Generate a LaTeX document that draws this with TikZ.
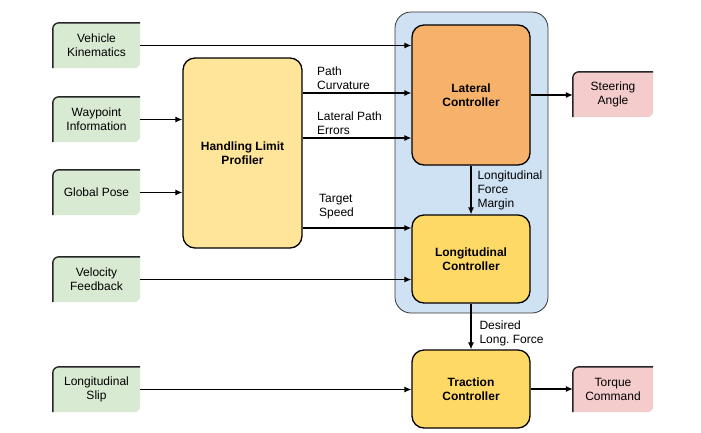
\documentclass[tikz,border=0pt]{standalone}
\usepackage{fontspec}
\setmainfont{Liberation Sans}
\usetikzlibrary{arrows.meta,backgrounds,calc}

\definecolor{inGreen}{HTML}{D9EAD3}
\definecolor{outPink}{HTML}{F4CCCC}
\definecolor{hlpYellow}{HTML}{FFE599}
\definecolor{latOrange}{HTML}{F6B26B}
\definecolor{ctrlYellow}{HTML}{FFD966}
\definecolor{grpBlue}{HTML}{CFE2F3}

\begin{document}
\begin{tikzpicture}[x=1pt, y=-1pt, font=\fontsize{12}{14}\selectfont,
    block/.style={draw, line width=1.3pt, rounded corners=12pt, align=center,
        font=\fontsize{12}{14}\selectfont\bfseries},
    io/.style={minimum width=87pt, minimum height=45pt, inner sep=0pt, align=center},
    sig/.style={line width=1.1pt, -{Latex[length=7pt, width=6pt]}},
    lbl/.style={inner sep=0pt, align=left}]
    \useasboundingbox (0,0) rectangle (701,432);

    % controller group behind the two controllers
    \node[draw=black!80, line width=0.8pt, fill=grpBlue, rounded corners=16pt,
        minimum width=153pt, minimum height=301pt] (grp) at (471.5,162.5) {};

    % inputs
    \node[io] (vk) at (96.5,45.5) {Vehicle\\Kinematics};
    \node[io] (wi) at (96.5,119.5) {Waypoint\\Information};
    \node[io] (gp) at (96.5,192.5) {Global Pose};
    \node[io] (vf) at (96.5,279.5) {Velocity\\Feedback};
    \node[io] (ls) at (96.5,389.5) {Longitudinal\\Slip};
    % outputs
    \node[io, minimum width=80pt] (sa) at (613,94.5) {Steering\\Angle};
    \node[io, minimum width=80pt] (tq) at (613,389.5) {Torque\\Command};

    % blocks
    \node[block, fill=hlpYellow, minimum width=119pt, minimum height=190pt] (hlp) at (242.5,153) {Handling Limit\\Profiler};
    \node[block, fill=latOrange, minimum width=118pt, minimum height=140pt] (lat) at (471,95) {Lateral\\Controller};
    \node[block, fill=ctrlYellow, minimum width=118pt, minimum height=88pt] (lon) at (471,259) {Longitudinal\\Controller};
    \node[block, fill=ctrlYellow, minimum width=118pt, minimum height=78pt] (tc) at (471,389) {Traction\\Controller};

    \begin{pgfonlayer}{background}
    \foreach \n/\c in {vk/inGreen, wi/inGreen, gp/inGreen, vf/inGreen, ls/inGreen, sa/outPink, tq/outPink} {
        \fill[\c] (\n.south west) -- ([yshift=-6pt]\n.north west) arc[start angle=180, end angle=90, radius=6pt]
            -- (\n.north east) -- ([yshift=6pt]\n.south east) arc[start angle=0, end angle=-90, radius=6pt] -- cycle;
        \draw[line width=1.4pt, black!85] (\n.south west) -- ([yshift=-6pt]\n.north west)
            arc[start angle=180, end angle=90, radius=6pt] -- (\n.north east);
    }
    \end{pgfonlayer}

    % signals
    \draw[sig] (vk.east) -- (vk.east -| lat.west);
    \draw[sig] (wi.east) -- (wi.east -| hlp.west);
    \draw[sig] (gp.east) -- (gp.east -| hlp.west);
    \draw[sig] ([yshift=60pt]hlp.east) -- node[lbl, at start, anchor=south west, xshift=14pt, yshift=3pt] {Path\\Curvature}
        ([yshift=60pt]hlp.east -| lat.west);
    \draw[sig] ([yshift=15pt]hlp.east) -- node[lbl, at start, anchor=south west, xshift=14pt, yshift=3pt] {Lateral Path\\Errors}
        ([yshift=15pt]hlp.east -| lat.west);
    \draw[sig] ([yshift=-75pt]hlp.east) -- node[lbl, at start, anchor=south west, xshift=16pt, yshift=8pt] {Target\\Speed}
        ([yshift=-75pt]hlp.east -| lon.west);
    \draw[sig] (vf.east) -- (vf.east -| lon.west);
    \draw[sig] (lat.south) -- node[lbl, right=6pt] {Longitudinal\\Force\\Margin} (lon.north);
    \draw[sig] (lon.south) -- node[lbl, right=8pt, pos=0.65] {Desired\\Long.\ Force} (tc.north);
    \draw[sig] (lat.east) -- (lat.east -| sa.west);
    \draw[sig] (ls.east) -- (ls.east -| tc.west);
    \draw[sig] (tc.east) -- (tc.east -| tq.west);
\end{tikzpicture}
\end{document}
